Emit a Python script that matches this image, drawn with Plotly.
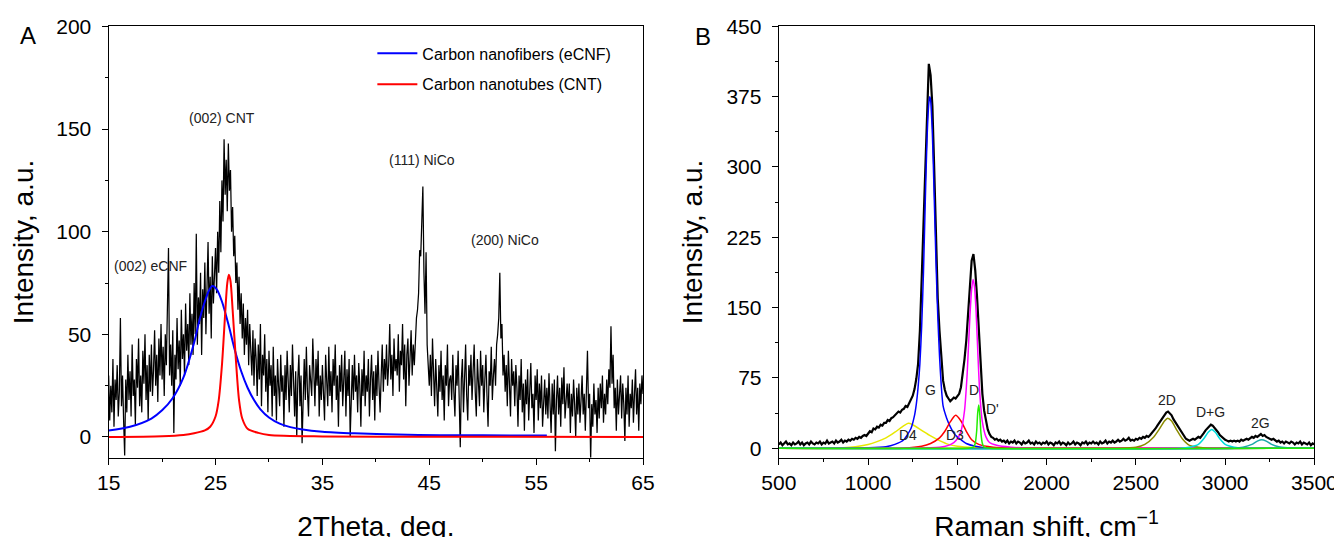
import numpy as np
import plotly.graph_objects as go

# ---------------- Panel A : XRD ----------------
xrd_start, xrd_step = 15.0, 0.1
xrd_rows = [
    [30, 8, 25, 12, 38, 5, 28, 18, 35, 10],
    [22, 58, 15, 30, 8, -9, 28, 12, 40, 18],
    [32, 10, 45, 20, 28, 6, 38, 24, 48, 15],
    [30, 12, 42, 26, 50, 18, 35, 8, 40, 22],
    [45, 20, 33, 52, 25, 40, 17, 48, 30, 55],
    [28, 44, 20, 50, 35, 60, 92, 30, 45, 25],
    [52, 2, 40, 28, 58, 33, 47, 25, 62, 38],
    [50, 30, 65, 42, 55, 35, 70, 45, 60, 40],
    [75, 50, 99, 45, 68, 55, 80, 40, 72, 58],
    [85, 50, 70, 95, 60, 78, 48, 88, 65, 75],
    [92, 70, 100, 80, 115, 90, 125, 105, 145, 118],
    [135, 110, 143, 120, 130, 100, 112, 88, 98, 75],
    [85, 62, 78, 55, 70, 48, 65, 40, 58, 45],
    [62, 35, 55, 42, 30, 52, 25, 48, 38, 20],
    [45, 28, 55, 15, 40, 30, 50, 22, 38, 12],
    [42, 25, 35, 10, 44, 20, 30, 8, 38, 25],
    [15, 40, 22, 30, 5, 35, 18, 42, 28, 12],
    [35, 20, 45, 25, 10, 32, 0, 28, 40, 15],
    [30, -3, 25, 38, 18, 44, 22, 10, 35, 28],
    [20, 48, 30, 15, 38, 25, 42, 10, 30, 18],
    [35, 22, 8, 40, 28, 15, 44, 20, 32, 12],
    [38, 25, 45, 18, 30, 5, 35, 22, 40, 15],
    [28, 42, 10, 33, 20, 38, 0, 25, 35, 18],
    [40, 22, 30, 12, 36, 25, 5, 33, 20, 42],
    [15, 30, 22, 38, 10, 28, 40, 18, 32, 8],
    [35, 20, 42, 25, 12, 30, 45, 22, 38, 28],
    [45, 25, 35, 55, 28, 40, 20, 48, 32, 38],
    [30, 50, 22, 42, 35, 55, 28, 45, 15, 40],
    [48, 25, 38, 52, 30, 45, 35, 50, 58, 62],
    [70, 91, 88, 105, 122, 80, 60, 90, 45, 35],
    [25, 40, 20, 48, 30, 15, 38, 25, 10, 35],
    [22, 42, 18, 30, 8, 35, 25, 45, 15, 28],
    [30, 18, 40, 22, 10, 35, 25, 42, 15, -5],
    [28, 38, 12, 30, 45, 20, 8, 35, 25, 40],
    [18, 32, 45, 22, 10, 38, 28, 15, 42, 25],
    [35, 12, 28, 40, 20, 5, 32, 25, 44, 18],
    [30, 38, 25, 45, 50, 58, 80, 48, 55, 30],
    [40, 22, 35, 15, 42, 28, 10, 38, 25, 32],
    [15, 35, 24, 5, 30, 18, 38, 12, 26, 3],
    [28, 16, 33, 8, 24, 36, 14, 21, 2, 30],
    [18, 33, 8, 26, 14, 30, 5, 21, 28, 11],
    [24, 9, 31, 16, 2, 26, 11, 28, -7, 18],
    [30, 11, 24, 5, 29, 16, 34, 9, 21, 26],
    [14, 26, 2, 21, 10, 28, 16, 0, 24, 11],
    [26, 7, 18, 30, 11, 21, 3, 24, 42, 14],
    [21, -11, 16, 5, 26, 11, 18, 2, 24, 9],
    [26, 14, 30, 7, 21, 11, 28, 16, 33, 24],
    [54, 26, 40, 14, 24, 3, 28, 11, 21, 30],
    [9, 26, 16, -2, 24, 11, 30, 5, 21, 14],
    [28, 7, 21, 33, 11, 24, 3, 26, 16, 30],
    [21],
]
xrd_y = [v for row in xrd_rows for v in row]
xrd_x = [round(xrd_start + i * xrd_step, 2) for i in range(len(xrd_y))]

ecnf_x = [15, 17, 19, 20, 21, 22, 23, 23.5, 24, 24.4, 24.7, 25.1, 25.6, 26.2, 26.8, 27.4,
          28, 28.6, 29.2, 30, 31, 32, 33, 35, 38, 42, 46, 50, 56]
ecnf_y = [3.2, 5, 9, 13, 19, 29, 46, 57, 66, 71.5, 73.5, 72, 66, 55, 42.5, 32,
          24, 18, 13.5, 9.5, 6.5, 4.8, 3.8, 2.6, 1.8, 1.2, 0.9, 0.8, 0.7]

cnt_x = [15, 20, 22, 23, 24, 24.5, 25, 25.3, 25.6, 25.9, 26.1, 26.25, 26.4, 26.6, 26.9,
         27.2, 27.5, 28, 29, 30, 35, 45, 65]
cnt_y = [0, 0.4, 1, 1.8, 3.2, 5, 10, 18, 35, 60, 75, 79, 76, 62, 38,
         18, 9, 4, 2, 1, 0.3, 0.1, 0]

# ---------------- Panel B : Raman ----------------
raman_start, raman_step = 500, 10
raman_rows = [
    [4, 6, 3, 5, 7, 4, 5, 3, 6, 4],
    [5, 7, 4, 6, 3, 5, 6, 4, 7, 5],
    [4, 6, 5, 7, 4, 6, 5, 8, 5, 6],
    [7, 5, 8, 6, 7, 9, 6, 8, 7, 9],
    [8, 10, 9, 11, 10, 12, 11, 13, 14, 13],
    [15, 18, 17, 21, 20, 23, 22, 25, 24, 27],
    [27, 30, 29, 32, 33, 35, 36, 39, 38, 41],
    [42, 45, 44, 48, 51, 56, 63, 74, 90, 125],
    [180, 240, 300, 365, 410, 398, 365, 300, 220, 160],
    [125, 95, 72, 62, 56, 53, 50, 52, 54, 53],
    [56, 58, 65, 78, 95, 115, 145, 178, 200, 207],
    [190, 162, 125, 88, 58, 40, 30, 20, 15, 12],
    [11, 9, 10, 8, 9, 7, 8, 6, 8, 5],
    [7, 6, 8, 5, 7, 6, 4, 7, 5, 6],
    [8, 5, 6, 4, 7, 5, 6, 4, 6, 5],
    [7, 4, 6, 5, 3, 6, 5, 7, 4, 6],
    [5, 3, 6, 4, 5, 7, 4, 6, 5, 3],
    [6, 5, 7, 4, 6, 5, 7, 5, 6, 4],
    [7, 5, 6, 8, 5, 7, 6, 8, 6, 7],
    [9, 7, 8, 10, 8, 9, 11, 8, 9, 8],
    [10, 9, 11, 10, 12, 11, 13, 12, 14, 16],
    [18, 21, 24, 27, 30, 33, 36, 38, 39, 37],
    [35, 31, 28, 25, 21, 18, 15, 12, 10, 9],
    [8, 9, 10, 9, 11, 12, 11, 13, 16, 19],
    [21, 23, 25, 24, 22, 20, 17, 14, 12, 10],
    [9, 8, 7, 8, 7, 8, 7, 8, 7, 9],
    [8, 9, 10, 9, 11, 12, 11, 13, 12, 14],
    [15, 13, 14, 12, 11, 10, 9, 10, 8, 7],
    [8, 6, 7, 5, 7, 6, 5, 7, 6, 4],
    [6, 5, 7, 4, 6, 5, 4, 6, 3, 5],
    [4],
]
raman_y = [v for row in raman_rows for v in row]
raman_x = [raman_start + i * raman_step for i in range(len(raman_y))]

d4_x = [500, 800, 900, 1000, 1050, 1100, 1150, 1200, 1225, 1250, 1300, 1350, 1400, 1450, 1500, 1600, 1700, 3500]
d4_y = [0, 0, 1, 4, 7, 11, 17, 24, 26.5, 25, 19, 13, 8, 4, 2, 0.5, 0, 0]

g_x = [500, 1000, 1100, 1150, 1200, 1240, 1260, 1270, 1280, 1290, 1300, 1310, 1320, 1330, 1340,
       1345, 1350, 1360, 1370, 1380, 1390, 1400, 1410, 1420, 1440, 1460, 1480, 1500, 1520,
       1550, 1600, 1650, 3500]
g_y = [0, 0.5, 1.5, 4, 9, 21, 35, 47, 65, 90, 130, 187, 262, 330, 368,
       375, 371, 335, 270, 200, 142, 98, 66, 45, 32, 23, 16, 12, 9,
       5, 2, 0.5, 0]

d3_x = [500, 1200, 1300, 1350, 1400, 1430, 1460, 1490, 1520, 1550, 1580, 1620, 1700, 1800, 3500]
d3_y = [0, 0, 2, 5, 11, 18, 28, 35, 29, 18, 9, 4, 1, 0, 0]

d_x = [500, 1400, 1450, 1480, 1500, 1520, 1540, 1555, 1570, 1580, 1588, 1596, 1605, 1615,
       1625, 1640, 1660, 1680, 1720, 1800, 1900, 3500]
d_y = [0, 1, 3, 6, 10, 18, 40, 80, 140, 170, 180, 172, 145, 100,
       60, 28, 12, 6, 3, 1, 0, 0]

d2_x = [500, 2400, 2500, 2550, 2600, 2630, 2660, 2678, 2700, 2730, 2760, 2800, 2850, 2900, 3500]
d2_y = [0, 0, 1, 4, 12, 20, 29, 32, 29, 19, 10, 3, 1, 0, 0]

dg_x = [500, 2750, 2800, 2850, 2880, 2905, 2925, 2945, 2970, 3000, 3050, 3100, 3500]
dg_y = [0, 0, 1, 4, 10, 17, 20, 17, 10, 4, 1, 0, 0]

g2_x = [500, 3050, 3100, 3150, 3180, 3205, 3230, 3260, 3300, 3350, 3400, 3500]
g2_y = [0, 0, 1, 4, 7.5, 9, 7.5, 4, 1.5, 0.5, 0, 0]

dp_x = [500, 1560, 1590, 1600, 1608, 1614, 1620, 1626, 1632, 1640, 1650, 1680, 3500]
dp_y = [0, 0, 1, 5, 18, 38, 46, 35, 16, 5, 1, 0, 0]

# ---------------- Figure ----------------
FONT = "Arial, Liberation Sans, Helvetica, sans-serif"
fig = go.Figure()

fig.add_trace(go.Scatter(x=xrd_x, y=xrd_y, mode="lines", line=dict(color="black", width=1.25),
                         showlegend=False, xaxis="x", yaxis="y"))
fig.add_trace(go.Scatter(x=ecnf_x, y=ecnf_y, mode="lines", name="Carbon nanofibers (eCNF)",
                         line=dict(color="#0000ff", width=2, shape="spline", smoothing=0.8),
                         legendgroup="a", xaxis="x", yaxis="y"))
fig.add_trace(go.Scatter(x=cnt_x, y=cnt_y, mode="lines", name="Carbon nanotubes (CNT)",
                         line=dict(color="#ff0000", width=2, shape="spline", smoothing=0.8),
                         legendgroup="b", xaxis="x", yaxis="y"))

fig.add_trace(go.Scatter(x=raman_x, y=raman_y, mode="lines", line=dict(color="black", width=2.2),
                         showlegend=False, xaxis="x2", yaxis="y2"))
fits = [
    (d4_x, d4_y, "#e8e800"),
    (g_x, g_y, "#0000ff"),
    (d3_x, d3_y, "#ff0000"),
    (d_x, d_y, "#ff00ff"),
    (d2_x, d2_y, "#8b8b00"),
    (dg_x, dg_y, "#00dcdc"),
    (g2_x, g2_y, "#1aa8a8"),
    (dp_x, dp_y, "#22ee00"),
]
for fx, fy, col in fits:
    fig.add_trace(go.Scatter(x=fx, y=fy, mode="lines",
                             line=dict(color=col, width=1.5, shape="spline", smoothing=0.6),
                             showlegend=False, xaxis="x2", yaxis="y2"))

axis_common = dict(showline=True, linecolor="black", linewidth=1.3, mirror=True,
                   ticks="outside", ticklen=6, tickwidth=1.2, tickcolor="black",
                   showgrid=False, zeroline=False, automargin=False,
                   tickfont=dict(family=FONT, size=21, color="black"))

XD1 = [0.0750, 0.4732]
XD2 = [0.5744, 0.9735]
YD = [0.1629, 0.9657]

fig.update_layout(
    width=1342, height=537,
    margin=dict(l=0, r=0, t=0, b=0, autoexpand=False),
    paper_bgcolor="white", plot_bgcolor="white",
    font=dict(family=FONT, color="black"),
    xaxis=dict(domain=XD1, range=[15, 65], tick0=15, dtick=10, ticklabelstandoff=0,
               minor=dict(dtick=5, ticklen=3, ticks="outside", tickcolor="black"),
               title=dict(text="2Theta, deg.", font=dict(size=28), standoff=23),
               anchor="y", **axis_common),
    yaxis=dict(domain=YD, range=[-10, 200], tick0=0, dtick=50, ticklabelstandoff=6,
               minor=dict(dtick=25, ticklen=3, ticks="outside", tickcolor="black"),
               title=dict(text="Intensity, a.u.", font=dict(size=28), standoff=17),
               anchor="x", **axis_common),
    xaxis2=dict(domain=XD2, range=[500, 3500], tick0=500, dtick=500, ticklabelstandoff=0,
                minor=dict(dtick=250, ticklen=3, ticks="outside", tickcolor="black"),
                title=dict(text="Raman shift, cm<sup>−1</sup>", font=dict(size=28), standoff=23),
                anchor="y2", **axis_common),
    yaxis2=dict(domain=YD, range=[-10, 450], tick0=0, dtick=75, ticklabelstandoff=6,
                minor=dict(dtick=37.5, ticklen=3, ticks="outside", tickcolor="black"),
                title=dict(text="Intensity, a.u.", font=dict(size=28), standoff=15),
                anchor="x2", **axis_common),
    legend=dict(x=0.2715, y=0.947, xanchor="left", yanchor="top",
                bgcolor="rgba(0,0,0,0)", font=dict(family=FONT, size=16),
                tracegroupgap=7, itemwidth=40),
)

ann_font = dict(family=FONT, size=14, color="#222222")
labels_a = [("(002) CNT", 25.6, 155.4), ("(111) NiCo", 44.3, 134.9),
            ("(200) NiCo", 52.1, 96), ("(002) eCNF", 18.9, 83.4)]
for t, ax_, ay_ in labels_a:
    fig.add_annotation(text=t, x=ax_, y=ay_, xref="x", yref="y", showarrow=False,
                       font=ann_font, xanchor="center", yanchor="middle")
labels_b = [("G", 1347, 62.4), ("D", 1593, 62.4), ("D'", 1694, 42.2), ("D4", 1223, 14.5),
            ("D3", 1487, 14.5), ("2D", 2674, 51.8), ("D+G", 2920, 39), ("2G", 3200, 27.3)]
for t, ax_, ay_ in labels_b:
    fig.add_annotation(text=t, x=ax_, y=ay_, xref="x2", yref="y2", showarrow=False,
                       font=ann_font, xanchor="center", yanchor="middle")

fig.add_annotation(text="A", x=0.0149, y=0.9497, xref="paper", yref="paper", showarrow=False,
                   font=dict(family=FONT, size=24, color="black"), xanchor="center", yanchor="middle")
fig.add_annotation(text="B", x=0.5179, y=0.946, xref="paper", yref="paper", showarrow=False,
                   font=dict(family=FONT, size=24, color="black"), xanchor="center", yanchor="middle")

fig.write_html("out.html")
